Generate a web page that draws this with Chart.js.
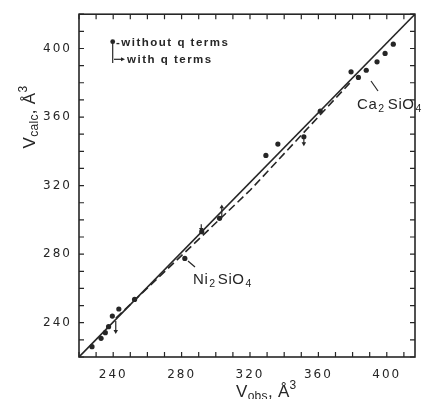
<!DOCTYPE html>
<html><head><meta charset="utf-8">
<script src="https://cdn.jsdelivr.net/npm/chart.js@4"></script>
<style>html,body{margin:0;padding:0;background:#fff;}canvas{display:block;}</style>
</head><body>
<canvas id="c" width="426" height="399"></canvas>
<script>
// ---- data ----
const obsX  = [227.6,232.9,235.4,237.3,239.5,243.3,252.5,281.9,291.8,302.2,329.3,336.3,351.5,361.1,379.1,383.4,388.0,394.3,399.0,403.8];
const calcY = [226.0,230.9,234.2,237.7,243.9,248.0,253.6,277.5,293.1,300.9,337.6,344.2,348.5,363.4,386.4,383.1,387.3,392.2,397.1,402.5];
const arrowX    = [241.5, 291.5, 303.5, 351.5];
const arrowFrom = [241.0, 297.5, 301.5, 347.5];
const arrowTo   = [235.0, 294.5, 307.5, 344.5];
const idealX = [220, 416.5];
const idealY = [220, 420];
const fitX = [241.6, 320.2, 378.3];
const fitY = [242.7, 317.4, 379.8];
const xTickLabels = [240, 280, 320, 360, 400];
const yTickLabels = [240, 280, 320, 360, 400];
const xRange = [220, 416.5];
const yRange = [220, 420];

const INK = '#262626';
const toPts = (xs, ys) => xs.map((x, i) => ({x, y: ys[i]}));

const datasets = [
  {data: toPts(idealX, idealY), showLine: true, borderColor: INK, borderWidth: 1.6, pointRadius: 0},
  {data: toPts(fitX, fitY), showLine: true, borderColor: INK, borderWidth: 1.6, borderDash: [8, 4], pointRadius: 0},
  {data: toPts(obsX, calcY), showLine: false, backgroundColor: INK, borderColor: INK, pointRadius: 2.6, pointBorderWidth: 0}
];
arrowX.forEach((x, i) => {
  datasets.push({
    data: [{x, y: arrowFrom[i]}, {x, y: arrowTo[i]}],
    showLine: true, borderColor: INK, borderWidth: 1.2,
    pointRadius: [0, 2.6], pointStyle: 'triangle',
    pointRotation: arrowTo[i] < arrowFrom[i] ? 180 : 0,
    backgroundColor: INK, pointBorderWidth: 0
  });
});

function segText(ctx, x, y, segs) {
  let cx = x;
  for (const s of segs) {
    ctx.font = s.font;
    ctx.fillText(s.t, cx, y + (s.dy || 0));
    cx += ctx.measureText(s.t).width + (s.gap || 0);
  }
  return cx - x;
}
function segWidth(ctx, segs) {
  let w = 0;
  for (const s of segs) { ctx.font = s.font; w += ctx.measureText(s.t).width + (s.gap || 0); }
  return w;
}

const decor = {
  id: 'decor',
  beforeLayout(chart) { chart.ctx.letterSpacing = '2px'; },
  afterDraw(chart) {
    const ctx = chart.ctx, a = chart.chartArea;
    const xs = chart.scales.x, ys = chart.scales.y;
    ctx.save();
    ctx.letterSpacing = '0px';
    ctx.strokeStyle = INK; ctx.fillStyle = INK;
    // frame
    ctx.lineWidth = 1.6;
    ctx.strokeRect(a.left, a.top, a.right - a.left, a.bottom - a.top);
    // inward ticks every 10
    ctx.lineWidth = 1.2;
    const TL = 5;
    for (let v = Math.ceil(xRange[0] / 10) * 10; v <= xRange[1]; v += 10) {
      const p = xs.getPixelForValue(v);
      ctx.beginPath();
      ctx.moveTo(p, a.bottom); ctx.lineTo(p, a.bottom - TL);
      ctx.moveTo(p, a.top); ctx.lineTo(p, a.top + TL);
      ctx.stroke();
    }
    for (let v = Math.ceil(yRange[0] / 10) * 10; v <= yRange[1]; v += 10) {
      const p = ys.getPixelForValue(v);
      ctx.beginPath();
      ctx.moveTo(a.left, p); ctx.lineTo(a.left + TL, p);
      ctx.moveTo(a.right, p); ctx.lineTo(a.right - TL, p);
      ctx.stroke();
    }
    // legend
    ctx.lineWidth = 1.2;
    ctx.beginPath(); ctx.arc(112.7, 41.7, 2.4, 0, Math.PI * 2); ctx.fill();
    ctx.beginPath(); ctx.moveTo(112.7, 41.7); ctx.lineTo(112.7, 63); ctx.stroke();
    ctx.beginPath(); ctx.moveTo(114, 59.3); ctx.lineTo(123, 59.3); ctx.stroke();
    ctx.beginPath(); ctx.moveTo(125, 59.3); ctx.lineTo(121, 57.3); ctx.lineTo(121, 61.3); ctx.closePath(); ctx.fill();
    ctx.font = 'bold 11.5px "Liberation Sans"';
    ctx.letterSpacing = '1.5px';
    ctx.textBaseline = 'alphabetic';
    ctx.fillText('-without q terms', 116, 46);
    ctx.fillText('with q terms', 127, 63);
    ctx.letterSpacing = '0.6px';
    // annotations
    const big = '15px "Liberation Sans"', sub = '10.5px "Liberation Sans"';
    segText(ctx, 357, 109, [{t: 'Ca', font: big, gap: 1}, {t: '2', font: sub, dy: 3, gap: 3}, {t: 'SiO', font: big, gap: 1}, {t: '4', font: sub, dy: 3}]);
    ctx.beginPath(); ctx.moveTo(371, 81); ctx.lineTo(378, 91); ctx.stroke();
    segText(ctx, 193, 284, [{t: 'Ni', font: big, gap: 1}, {t: '2', font: sub, dy: 3, gap: 2}, {t: 'SiO', font: big, gap: 1}, {t: '4', font: sub, dy: 3}]);
    ctx.beginPath(); ctx.moveTo(188, 261); ctx.lineTo(195, 267); ctx.stroke();
    // axis titles
    ctx.letterSpacing = '0.3px';
    const T = '17px "Liberation Sans"', S = '12px "Liberation Sans"';
    segText(ctx, 236, 397, [{t: 'V', font: T}, {t: 'obs', font: S, dy: 3}, {t: ', ', font: T}, {t: 'Å', font: T}, {t: '3', font: S, dy: -8}]);
    const ysegs = [{t: 'V', font: T}, {t: 'calc', font: S, dy: 3}, {t: ', ', font: T}, {t: 'Å', font: T}, {t: '3', font: S, dy: -8}];
    const w = segWidth(ctx, ysegs);
    ctx.translate(35, 117);
    ctx.rotate(-Math.PI / 2);
    segText(ctx, -w / 2, 0, ysegs);
    ctx.restore();
  }
};

const tickFont = {family: '"DejaVu Sans"', size: 12};
new Chart(document.getElementById('c'), {
  type: 'scatter',
  data: {datasets},
  plugins: [decor],
  options: {
    responsive: false, animation: false, devicePixelRatio: 1,
    layout: {padding: {left: 0, top: 14, right: 2, bottom: 0}},
    plugins: {legend: {display: false}, tooltip: {enabled: false}},
    scales: {
      x: {
        type: 'linear', position: 'bottom', min: xRange[0], max: xRange[1],
        grid: {display: false, drawTicks: false}, border: {display: false},
        ticks: {stepSize: 10, autoSkip: false, maxRotation: 0, padding: 11, color: INK, font: tickFont,
                callback: v => xTickLabels.includes(v) ? String(v) : ''},
        afterFit: s => { s.height = 42; }
      },
      y: {
        type: 'linear', position: 'left', min: yRange[0], max: yRange[1],
        grid: {display: false, drawTicks: false}, border: {display: false},
        ticks: {stepSize: 10, autoSkip: false, padding: 7, color: INK, font: tickFont,
                callback: v => yTickLabels.includes(v) ? String(v) : ''},
        afterFit: s => { s.width = 79; }
      }
    }
  }
});
</script>
</body></html>
